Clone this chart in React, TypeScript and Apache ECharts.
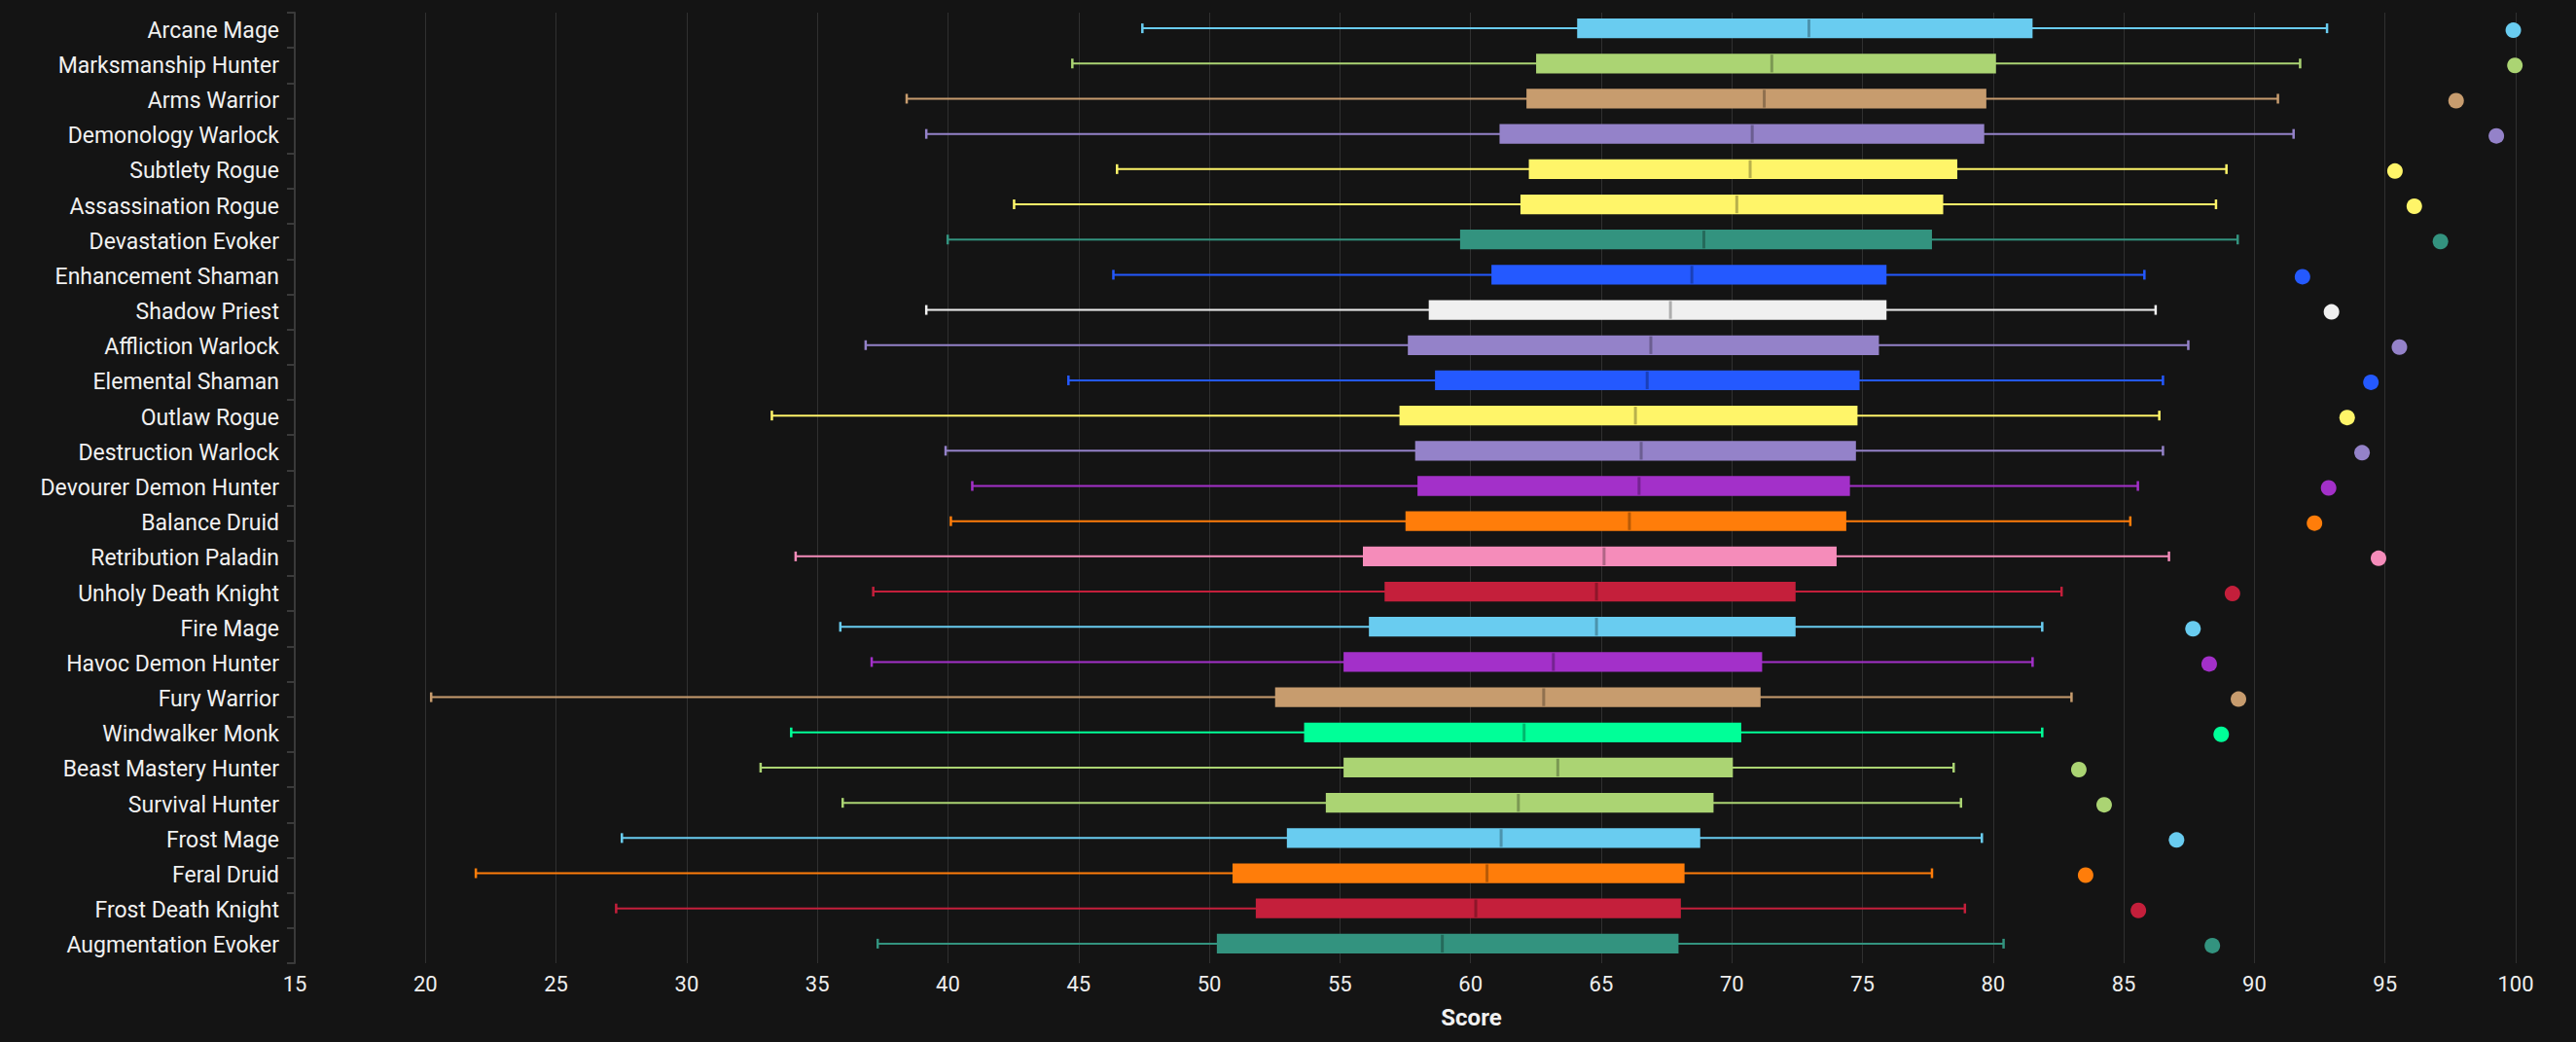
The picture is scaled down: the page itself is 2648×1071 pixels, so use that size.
import * as echarts from "echarts";
import { useEffect, useRef } from "react";

// top to bottom, as drawn
const specNames = [
  "Arcane Mage",
  "Marksmanship Hunter",
  "Arms Warrior",
  "Demonology Warlock",
  "Subtlety Rogue",
  "Assassination Rogue",
  "Devastation Evoker",
  "Enhancement Shaman",
  "Shadow Priest",
  "Affliction Warlock",
  "Elemental Shaman",
  "Outlaw Rogue",
  "Destruction Warlock",
  "Devourer Demon Hunter",
  "Balance Druid",
  "Retribution Paladin",
  "Unholy Death Knight",
  "Fire Mage",
  "Havoc Demon Hunter",
  "Fury Warrior",
  "Windwalker Monk",
  "Beast Mastery Hunter",
  "Survival Hunter",
  "Frost Mage",
  "Feral Druid",
  "Frost Death Knight",
  "Augmentation Evoker",
];

const whiskerLow = [
  47.44, 44.76, 38.42, 39.17, 46.47, 42.53, 39.99, 46.33, 39.17, 36.85, 44.61, 33.26, 39.91, 40.93,
  40.11, 34.17, 37.14, 35.88, 37.08, 20.22, 34.0, 32.83, 35.97, 27.52, 21.93, 27.3, 37.31,
];
const quartile1 = [
  64.08, 62.51, 62.14, 61.11, 62.23, 61.91, 59.6, 60.8, 58.4, 57.6, 58.64, 57.28, 57.88, 57.97,
  57.51, 55.88, 56.71, 56.11, 55.14, 52.52, 53.63, 55.14, 54.46, 52.97, 50.89, 51.78, 50.29,
];
const medians = [
  72.95, 71.53, 71.24, 70.78, 70.7, 70.19, 68.93, 68.47, 67.65, 66.9, 66.76, 66.31, 66.53, 66.45,
  66.08, 65.11, 64.82, 64.82, 63.17, 62.8, 62.05, 63.34, 61.83, 61.17, 60.63, 60.2, 58.92,
];
const quartile3 = [
  81.51, 80.11, 79.74, 79.66, 78.63, 78.09, 77.66, 75.92, 75.92, 75.63, 74.89, 74.81, 74.75, 74.52,
  74.38, 74.01, 72.44, 72.44, 71.16, 71.1, 70.36, 70.04, 69.3, 68.79, 68.19, 68.05, 67.96,
];
const whiskerHigh = [
  92.78, 91.75, 90.9, 91.5, 88.93, 88.53, 89.36, 85.79, 86.22, 87.47, 86.5, 86.36, 86.5, 85.54,
  85.25, 86.73, 82.62, 81.88, 81.51, 83.0, 81.88, 78.49, 78.77, 79.57, 77.66, 78.92, 80.4,
];
const topScores = [
  99.91, 99.97, 97.72, 99.26, 95.38, 96.12, 97.12, 91.84, 92.95, 95.55, 94.46, 93.55, 94.12, 92.84,
  92.3, 94.75, 89.16, 87.65, 88.27, 89.39, 88.73, 83.28, 84.25, 87.02, 83.54, 85.56, 88.39,
];

const MAGE = "#69CCF0";
const HUNTER = "#ABD473";
const WARRIOR = "#C79C6E";
const WARLOCK = "#9482C9";
const ROGUE = "#FFF569";
const EVOKER = "#33937F";
const SHAMAN = "#2459FF";
const PRIEST = "#F0F0F0";
const DH = "#A330C9";
const DRUID = "#FF7D0A";
const PALADIN = "#F58CBA";
const DK = "#C41F3B";
const MONK = "#00FF98";

const specColors = [
  MAGE, HUNTER, WARRIOR, WARLOCK, ROGUE, ROGUE, EVOKER, SHAMAN, PRIEST, WARLOCK, SHAMAN, ROGUE,
  WARLOCK, DH, DRUID, PALADIN, DK, MAGE, DH, WARRIOR, MONK, HUNTER, HUNTER, MAGE, DRUID, DK, EVOKER,
];

const darken = (hex: string, f: number) => {
  const n = parseInt(hex.slice(1), 16);
  const r = Math.round(((n >> 16) & 255) * f);
  const g = Math.round(((n >> 8) & 255) * f);
  const b = Math.round((n & 255) * f);
  return `rgb(${r},${g},${b})`;
};

const FONT = "Roboto";

export default function App() {
  const chartRef = useRef<HTMLDivElement>(null);

  useEffect(() => {
    document.body.style.margin = "0";
    document.body.style.background = "#141414";
    if (!chartRef.current) return;
    const chart = echarts.init(chartRef.current, undefined, { renderer: "svg" });

    const boxData = specNames.map((_, i) => [
      i,
      whiskerLow[i],
      quartile1[i],
      medians[i],
      quartile3[i],
      whiskerHigh[i],
    ]);

    chart.setOption({
      animation: false,
      backgroundColor: "#141414",
      grid: { left: 303, right: 62, top: 13, bottom: 81 },
      xAxis: {
        type: "value",
        min: 15,
        max: 100,
        interval: 5,
        name: "Score",
        nameLocation: "middle",
        nameGap: 44,
        nameTextStyle: {
          color: "#f0f0f0",
          fontFamily: FONT,
          fontWeight: "bold",
          fontSize: 24,
          padding: [0, 0, 0, 136],
        },
        axisLine: { show: false },
        axisTick: { show: false },
        axisLabel: { color: "#eeeeee", fontFamily: FONT, fontSize: 22, margin: 10 },
        splitLine: { show: true, lineStyle: { color: "#303030", width: 1 } },
      },
      yAxis: {
        type: "category",
        data: specNames,
        inverse: true,
        axisLine: { show: true, lineStyle: { color: "#3a3a3a", width: 2 } },
        axisTick: { show: true, length: 8, lineStyle: { color: "#3a3a3a", width: 2 } },
        axisLabel: { color: "#f0f0f0", fontFamily: FONT, fontSize: 23, margin: 16 },
        splitLine: { show: false },
      },
      series: [
        {
          type: "custom",
          data: boxData,
          encode: { x: [1, 2, 3, 4, 5], y: 0 },
          renderItem: (_params: any, api: any) => {
            const idx = api.value(0);
            const pMin = api.coord([api.value(1), idx]);
            const pQ1 = api.coord([api.value(2), idx]);
            const pMed = api.coord([api.value(3), idx]);
            const pQ3 = api.coord([api.value(4), idx]);
            const pMax = api.coord([api.value(5), idx]);
            const band = api.size([0, 1])[1];
            const boxH = band * 0.56;
            const y = pMed[1] - 2;
            const color = specColors[idx];
            return {
              type: "group",
              children: [
                {
                  type: "line",
                  shape: { x1: pMin[0], y1: y, x2: pMax[0], y2: y },
                  style: { stroke: color, lineWidth: 2 },
                },
                {
                  type: "line",
                  shape: { x1: pMin[0], y1: y - 5, x2: pMin[0], y2: y + 5 },
                  style: { stroke: color, lineWidth: 2.5 },
                },
                {
                  type: "line",
                  shape: { x1: pMax[0], y1: y - 5, x2: pMax[0], y2: y + 5 },
                  style: { stroke: color, lineWidth: 2.5 },
                },
                {
                  type: "rect",
                  shape: { x: pQ1[0], y: y - boxH / 2, width: pQ3[0] - pQ1[0], height: boxH },
                  style: { fill: color },
                },
                {
                  type: "line",
                  shape: { x1: pMed[0], y1: y - boxH / 2 + 1, x2: pMed[0], y2: y + boxH / 2 - 1 },
                  style: { stroke: darken(color, 0.72), lineWidth: 3 },
                },
              ],
            };
          },
        },
        {
          type: "scatter",
          symbol: "circle",
          symbolSize: 16,
          itemStyle: { opacity: 1 },
          data: topScores.map((v, i) => ({
            value: [v, i],
            itemStyle: { color: specColors[i], opacity: 1 },
          })),
        },
      ],
    });

    const onResize = () => chart.resize();
    window.addEventListener("resize", onResize);
    return () => {
      window.removeEventListener("resize", onResize);
      chart.dispose();
    };
  }, []);

  return (
    <div
      ref={chartRef}
      style={{ position: "fixed", left: 0, top: 0, width: "100vw", height: "100vh" }}
    />
  );
}
